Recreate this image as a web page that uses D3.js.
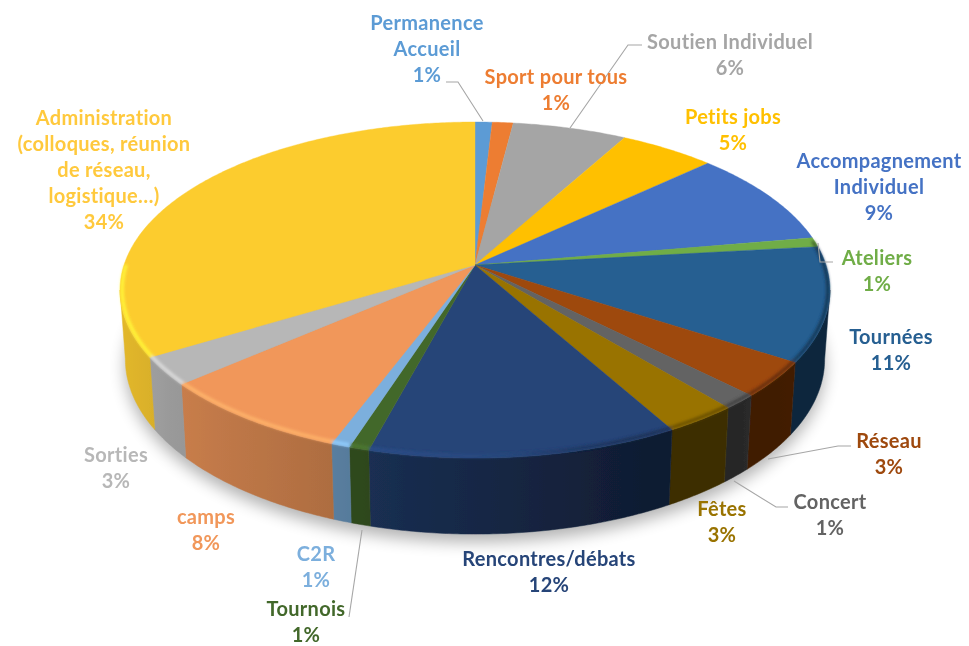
<!DOCTYPE html>
<html><head><meta charset="utf-8">
<script src="https://cdn.jsdelivr.net/npm/d3@7"></script>
<style>html,body{margin:0;background:#fff}svg{display:block}text{font-family:Lato,"Open Sans",sans-serif;font-weight:700;font-size:20px;letter-spacing:.3px;text-anchor:middle;dominant-baseline:central}</style>
</head><body><svg id="c" width="969" height="646"></svg>
<script>
const categories=["Permanence Accueil","Sport pour tous","Soutien Individuel","Petits jobs","Accompagnement Individuel","Ateliers","Tournées","Réseau","Concert","Fêtes","Rencontres/débats","Tournois","C2R","camps","Sorties","Administration"];
const values=[0.9,1.1,6,5.05,9.25,0.9,11,3.4,1.4,2.9,12.3,0.8,0.75,7.9,2.7,33.7];
const colors=["#5B9BD5","#ED7D31","#A5A5A5","#FFC000","#4472C4","#70AD47","#255E91","#9E480E","#636363","#997300","#264478","#43682B","#7CAFDD","#F1975A","#B7B7B7","#FCCC2F"];
const labelLines=[["Permanence","Accueil","1%"],["Sport pour tous","1%"],["Soutien Individuel","6%"],["Petits jobs","5%"],["Accompagnement","Individuel","9%"],["Ateliers","1%"],["Tournées","11%"],["Réseau","3%"],["Concert","1%"],["Fêtes","3%"],["Rencontres/débats","12%"],["Tournois","1%"],["C2R","1%"],["camps","8%"],["Sorties","3%"],["Administration","(colloques, réunion","de réseau,","logistique…)","34%"]];
const labelX=[427,556,730,733,879,877,891,889,830,722,549,306,316,206,116,104];
const labelY=[22,76,41,116,160,257,336,440,501,508,558,608,553,516,454,117];
const leaders=[[[446,82],[458,82],[483,121]],[[642,45],[628,45],[570,128]],[[818,243],[820,262],[833,262]],[[768,459],[838,446],[851,446]],[[734,481],[776,507],[788,507]],[[362,530],[349,617]]];

const cx=475,cy=265,Rx=351,Ry=164.3,k=0.149;
function rimTop(t){const u=Math.sin(t),v=Math.cos(t),w=1+k*v;return [cx+Rx*u/w,cy-Ry*v/w];}
function rimBot(t){const p=rimTop(t),v=Math.cos(t);return [cx+(p[0]-cx)*0.985,p[1]+68+8*Math.max(0,-v)];}
const line=d3.line();
const svg=d3.select("#c"),defs=svg.append("defs");
const blur=(id,s)=>defs.append("filter").attr("id",id).attr("x","-20%").attr("y","-20%").attr("width","140%").attr("height","140%").append("feGaussianBlur").attr("stdDeviation",s);
blur("soft",0.6);blur("rim",1.8);blur("shadow",8);blur("txt",0.35);

const pie=d3.pie().sort(null).value(d=>d)(values);
const shade=d3.scaleLinear().domain([120,188,333,475,670,830]).range([.9,.82,.72,.58,.4,.42]);
const rimTone=d3.scaleLinear().domain([120,333,475,590,830]).range([.6,.5,.2,-.25,-.45]);
function arcT(a0,a1){const n=Math.max(2,Math.ceil((a1-a0)/0.01));return d3.range(n+1).map(i=>a0+(a1-a0)*i/n);}
function grad(id,x0,x1,fn){const g=defs.append("linearGradient").attr("id",id).attr("gradientUnits","userSpaceOnUse").attr("x1",x0).attr("x2",x1).attr("y1",0).attr("y2",0);
  d3.range(7).forEach(i=>{const f=i/6;g.append("stop").attr("offset",f).attr("stop-color",fn(x0+(x1-x0)*f));});return `url(#${id})`;}

// ground shadow
const allT=arcT(0,2*Math.PI);
svg.append("path").attr("d",line(allT.map(rimBot).map(p=>[p[0],p[1]+8]))+"Z").attr("fill","#000").attr("opacity",.3).attr("filter","url(#shadow)");

const g=svg.append("g").attr("filter","url(#soft)");
const fMin=Math.acos(-k),fMax=2*Math.PI-fMin; // visible front wall range
// walls
pie.forEach((d,i)=>{
  const a0=Math.max(d.startAngle,fMin),a1=Math.min(d.endAngle,fMax);
  if(a1<=a0) return;
  const ts=arcT(a0,a1),up=ts.map(rimTop),lo=ts.map(rimBot).reverse();
  const xs=up.concat(lo).map(p=>p[0]),x0=d3.min(xs),x1=d3.max(xs)+.01;
  const fill=grad("w"+i,x0,x1,x=>{const c=d3.rgb(colors[i]),s=shade(x);return d3.rgb(c.r*s,c.g*s,c.b*s).formatHex();});
  g.append("path").attr("d",line(up.concat(lo))+"Z").attr("fill",fill).attr("stroke",fill).attr("stroke-width",.5);
});
// top faces
pie.forEach((d,i)=>{
  const pts=[[cx,cy]].concat(arcT(d.startAngle,d.endAngle).map(rimTop));
  g.append("path").attr("d",line(pts)+"Z").attr("fill",colors[i]).attr("stroke",colors[i]).attr("stroke-width",.4);
});
// bevel along the front rim
const rimG=g.append("g").attr("filter","url(#rim)");
pie.forEach((d,i)=>{
  const a0=Math.max(d.startAngle,fMin-.3),a1=Math.min(d.endAngle,fMax+.15);
  if(a1<=a0) return;
  const up=arcT(a0,a1).map(t=>{const p=rimTop(t);return [cx+(p[0]-cx)*.994,cy+(p[1]-cy)*.988];});
  const xs=up.map(p=>p[0]);
  const st=grad("r"+i,d3.min(xs),d3.max(xs)+.01,x=>{const t=rimTone(x);return d3.interpolateRgb(colors[i],t>0?d3.rgb(colors[i]).brighter(.9):"#000")(Math.abs(t));});
  rimG.append("path").attr("d",line(up)).attr("fill","none").attr("stroke",st).attr("stroke-width",3);
});
// leader lines
svg.append("g").selectAll("path").data(leaders).join("path").attr("d",d=>line(d)).attr("fill","none").attr("stroke","#A6A6A6").attr("stroke-width",1.1);
// labels
const lab=svg.append("g").attr("filter","url(#txt)");
labelLines.forEach((ls,i)=>{
  const col=i===15?"#FFC93C":i===14?"#B7B7B7":i===13?"#F1975A":colors[i];
  ls.forEach((s,j)=>lab.append("text").attr("x",labelX[i]).attr("y",labelY[i]+j*26).attr("fill",col).text(s));
});
</script></body></html>
